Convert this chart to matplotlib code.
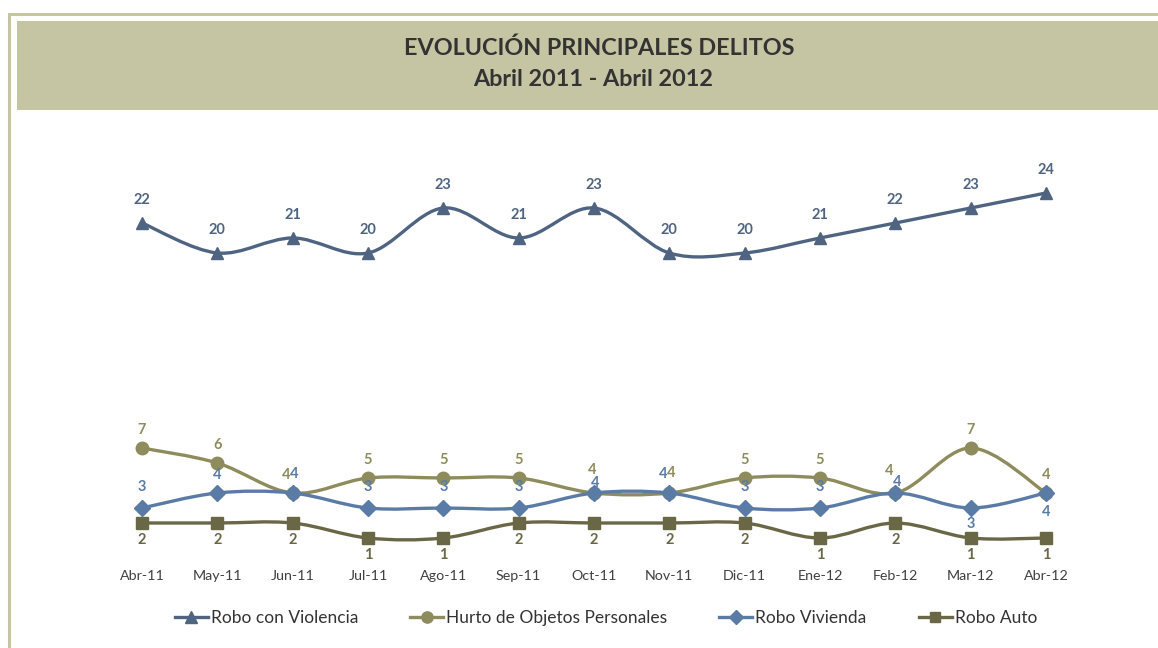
import matplotlib
matplotlib.use("Agg")
import matplotlib.pyplot as plt
from matplotlib.path import Path
from matplotlib.patches import PathPatch, Rectangle
from matplotlib.lines import Line2D

months = ["Abr-11", "May-11", "Jun-11", "Jul-11", "Ago-11", "Sep-11", "Oct-11",
          "Nov-11", "Dic-11", "Ene-12", "Feb-12", "Mar-12", "Abr-12"]
robo_violencia = [22, 20, 21, 20, 23, 21, 23, 20, 20, 21, 22, 23, 24]
hurto_objetos = [7, 6, 4, 5, 5, 5, 4, 4, 5, 5, 4, 7, 4]
robo_vivienda = [3, 4, 4, 3, 3, 3, 4, 4, 3, 3, 4, 3, 4]
robo_auto = [2, 2, 2, 1, 1, 2, 2, 2, 2, 1, 2, 1, 1]

series_names = ["Robo con Violencia", "Hurto de Objetos Personales", "Robo Vivienda", "Robo Auto"]

plt.rcParams['font.family'] = ['Lato', 'DejaVu Sans']

W, H = 1158, 648
fig = plt.figure(figsize=(W / 100, H / 100), dpi=100)

def fx(px):
    return px / W

def fy(py):
    return 1 - py / H

# border and title banner
olive_bg = "#C5C5A3"
fig.patches.append(Rectangle((fx(8.5), -0.2), 1, fy(14) + 0.2, transform=fig.transFigure,
                             fill=False, edgecolor=olive_bg, linewidth=2.2, zorder=0))
fig.patches.append(Rectangle((fx(17), fy(110)), 1, fy(21) - fy(110), transform=fig.transFigure,
                             facecolor=olive_bg, edgecolor="none", zorder=0))
fig.text(fx(599), fy(48), "EVOLUCIÓN PRINCIPALES DELITOS", ha="center", va="center",
         fontsize=16.8, fontweight="bold", color="#333333")
fig.text(fx(593), fy(80), "Abril 2011 - Abril 2012", ha="center", va="center",
         fontsize=16.8, fontweight="bold", color="#333333")

# axes: category 0 at x=142, category 12 at x=1046; value 0 at y=553, 15 px/unit
step = (1046 - 142) / 12
left_px = 142 - 0.5 * step
right_px = 1046 + 0.5 * step
y0_px = 553
ytop = 28
ax = fig.add_axes([fx(left_px), fy(y0_px), (right_px - left_px) / W, ytop * 15 / H])
ax.set_xlim(-0.5, 12.5)
ax.set_ylim(0, ytop)
ax.patch.set_alpha(0)
for s in ax.spines.values():
    s.set_visible(False)
ax.set_yticks([])
ax.set_xticks(range(len(months)))
ax.set_xticklabels(months, fontsize=10.3, color="#404040")
ax.tick_params(axis="x", length=0, pad=12)

def smooth_path(xs, ys):
    pts = list(zip(xs, ys))
    n = len(pts)
    verts = [pts[0]]
    codes = [Path.MOVETO]
    for i in range(n - 1):
        p0 = pts[i - 1] if i > 0 else pts[i]
        p1 = pts[i]
        p2 = pts[i + 1]
        p3 = pts[i + 2] if i + 2 < n else pts[i + 1]
        c1 = (p1[0] + (p2[0] - p0[0]) / 6, p1[1] + (p2[1] - p0[1]) / 6)
        c2 = (p2[0] - (p3[0] - p1[0]) / 6, p2[1] - (p3[1] - p1[1]) / 6)
        verts += [c1, c2, p2]
        codes += [Path.CURVE4] * 3
    return Path(verts, codes)

colors = ["#4F6480", "#8E8C5C", "#5A7BA6", "#6A6746"]
markers = ["^", "o", "D", "s"]
msizes = [9, 9, 8, 8]
all_data = [robo_violencia, hurto_objetos, robo_vivienda, robo_auto]
x = list(range(len(months)))

for data, c, m, ms, z in zip(all_data, colors, markers, msizes, [3, 2, 4, 3]):
    patch = PathPatch(smooth_path(x, data), facecolor="none", edgecolor=c,
                      linewidth=2.4, transform=ax.transData, zorder=z, capstyle="round")
    ax.add_patch(patch)
    ax.plot(x, data, linestyle="none", marker=m, markersize=ms, color=c, zorder=z + 0.5)

label_kw = dict(textcoords="offset pixels", ha="center", va="center",
                fontsize=10.5, fontweight="bold", zorder=10)

# label placement (pixels) where labels of two series meet
hurto_off = {2: (-7, 18), 6: (-2, 23), 7: (2, 20), 10: (-6, 22)}
vivienda_off = {1: (0, 18), 2: (1, 19), 6: (1, 10), 7: (-6, 19), 10: (2, 11),
                11: (0, -16), 12: (0, -19)}

for i, v in enumerate(robo_violencia):
    ax.annotate(str(v), (i, v), xytext=(0, 23), color=colors[0], **label_kw)

for i, v in enumerate(hurto_objetos):
    ax.annotate(str(v), (i, v), xytext=hurto_off.get(i, (0, 18)), color=colors[1], **label_kw)

for i, v in enumerate(robo_vivienda):
    ax.annotate(str(v), (i, v), xytext=vivienda_off.get(i, (0, 21)), color=colors[2], **label_kw)

for i, v in enumerate(robo_auto):
    ax.annotate(str(v), (i, v), xytext=(0, -17), color=colors[3], **label_kw)

handles = [Line2D([0], [0], color=c, marker=m, markersize=ms * 0.9, linewidth=2.4)
           for c, m, ms in zip(colors, markers, msizes)]
fig.legend(handles, series_names, loc="center", bbox_to_anchor=(fx(606), fy(618)),
           ncol=4, frameon=False, fontsize=12.5, handlelength=1.9, handletextpad=0.17,
           columnspacing=3.0, labelcolor="#333333")

fig.savefig("out.png", dpi=100)
